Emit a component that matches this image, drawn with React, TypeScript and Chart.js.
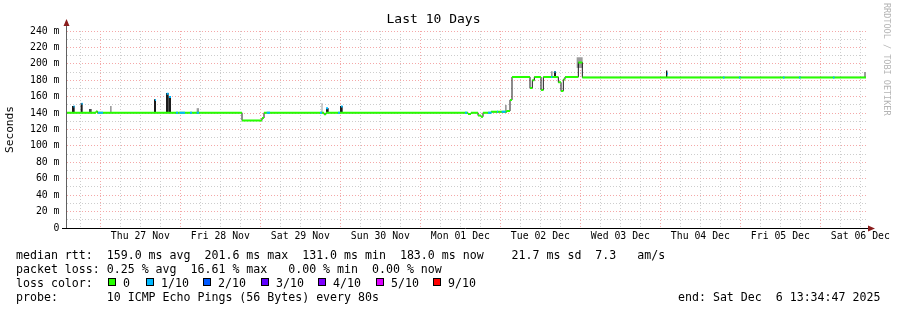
import React, { useEffect, useRef } from 'react';
import { Chart, registerables } from 'chart.js';

Chart.register(...registerables);

const FONT = '"DejaVu Sans Mono", monospace';

// ---- time axis: hours after the graph start (10 days = 240 h) ----
const X_MIN = 0;
const X_MAX = 240;
const dayLabels = ['Thu 27 Nov', 'Fri 28 Nov', 'Sat 29 Nov', 'Sun 30 Nov', 'Mon 01 Dec', 'Tue 02 Dec', 'Wed 03 Dec', 'Thu 04 Dec', 'Fri 05 Dec', 'Sat 06 Dec'];
const noonHours = [22, 46, 70, 94, 118, 142, 166, 190, 214, 238];
const midnightHours = [10, 34, 58, 82, 106, 130, 154, 178, 202, 226];
const sixHourGrid = [4, 10, 16, 22, 28, 34, 40, 46, 52, 58, 64, 70, 76, 82, 88, 94, 100, 106, 112, 118, 124, 130, 136, 142, 148, 154, 160, 166, 172, 178, 184, 190, 196, 202, 208, 214, 220, 226, 232, 238];

// ---- value axis (ms) ----
const Y_MAX = 240;
const yGridValues = [0, 10, 20, 30, 40, 50, 60, 70, 80, 90, 100, 110, 120, 130, 140, 150, 160, 170, 180, 190, 200, 210, 220, 230, 240];
const yLabelValues = [0, 20, 40, 60, 80, 100, 120, 140, 160, 180, 200, 220, 240];

// ---- median rtt (ms), step starts in hours ----
const medianStart = [0, 8.7, 9.15, 52.5, 58.5, 59.1, 77.1, 77.7, 120.3, 121.2, 123.3, 124.2, 124.8, 127.2, 131.9, 132.9, 133.5, 138.9, 139.6, 140.2, 142.2, 142.9, 147.4, 148.2, 148.9, 149.4, 153.4, 154.6];
const medianValue = [140.5, 142, 140.5, 131, 134, 140.5, 138.5, 140.5, 139, 140.5, 137, 135.5, 140.5, 141.5, 142.5, 156, 184, 170.5, 180, 184, 168, 184, 177.5, 167, 181, 184, 201.6, 183.5];
const medianEnd = 239.7;

// ---- intervals with 1/10 packet loss (median drawn in loss colour) ----
const lossStart = [1.95, 4.35, 9.3, 26.4, 29.9, 30.6, 32.7, 33.75, 36.9, 38.9, 59.9, 75.9, 77.7, 81.3, 82.2, 119.4, 126.3, 129.0, 130.4, 145.2, 146.25, 180.0, 196.8, 201.6, 214.8, 219.6, 229.8];
const lossEnd = [2.3, 4.7, 10.8, 26.7, 30.5, 31.2, 33.3, 35.4, 37.5, 39.6, 60.9, 76.5, 78.3, 81.9, 82.7, 120.0, 127.4, 129.3, 131.6, 145.6, 146.55, 180.3, 197.25, 202.05, 215.25, 220.05, 230.25];
const lossValue = [148, 151.5, 140.5, 156, 163.5, 159.5, 140.5, 140.5, 140.5, 140.5, 140.5, 140.5, 146, 140.5, 148, 140.5, 140.5, 141.5, 141.5, 184, 190, 188, 183.5, 183.5, 183.5, 183.5, 183.5];

// ---- smoke (spread of individual pings) ----
const smokeStart = [1.5, 4.1, 6.6, 12.9, 26.1, 29.7, 30.5, 38.9, 76.35, 77.7, 81.9, 131.4, 145.2, 146.1, 152.9, 179.7, 239.1];
const smokeEnd = [2.3, 4.7, 7.4, 13.4, 26.7, 30.5, 31.2, 39.6, 76.65, 78.5, 82.7, 131.9, 145.7, 146.7, 154.7, 180.1, 239.7];
const smokeLow = [140.5, 140.5, 140.5, 140.5, 140.5, 140.5, 140.5, 140.5, 140.5, 140.5, 140.5, 140.5, 184, 184, 195, 184, 184];
const smokeHigh = [148.6, 152, 145, 148.6, 157, 164.5, 160.5, 146, 152, 146, 148.6, 150, 191, 191, 208, 192, 190];
const smokeShade = ['dark', 'dark', 'mid', 'light', 'dark', 'dark', 'dark', 'light', 'light', 'dark', 'dark', 'light', 'light', 'dark', 'light', 'dark', 'light'];

// ---- legend ----
const lossLabels = ['0', '1/10', '2/10', '3/10', '4/10', '5/10', '9/10'];
const lossColors = ['#26ff00', '#00b8ff', '#0059ff', '#5e00ff', '#7e00ff', '#dd00ff', '#ff0000'];
const legendRtt = 'median rtt:  159.0 ms avg  201.6 ms max  131.0 ms min  183.0 ms now    21.7 ms sd  7.3   am/s';
const legendLoss = 'packet loss: 0.25 % avg  16.61 % max   0.00 % min  0.00 % now';
const legendProbe = 'probe:       10 ICMP Echo Pings (56 Bytes) every 80s';
const legendEnd = 'end: Sat Dec  6 13:34:47 2025';

const SHADES: Record<string, string> = { dark: '#1c1c1c', mid: '#4a4a4a', light: '#9c9c9c' };
const MAJOR_GRID = '#f4a8a8';
const MINOR_GRID = '#cdcdcd';
const TICK_FONT_SIZE = 9.8;

const axesPlugin = {
  id: 'rrdAxes',
  afterDraw(chart: any) {
    const { ctx, chartArea: a } = chart;
    ctx.save();
    ctx.lineWidth = 1;
    ctx.strokeStyle = '#606060';
    ctx.beginPath();
    ctx.moveTo(a.left - 0.5, a.bottom);
    ctx.lineTo(a.left - 0.5, a.top - 8);
    ctx.stroke();
    ctx.strokeStyle = '#000000';
    ctx.beginPath();
    ctx.moveTo(a.left - 5, a.bottom + 0.5);
    ctx.lineTo(a.right + 2, a.bottom + 0.5);
    ctx.stroke();
    ctx.fillStyle = '#8a1d1d';
    ctx.beginPath();
    ctx.moveTo(a.left - 0.5, a.top - 12);
    ctx.lineTo(a.left - 3.5, a.top - 5);
    ctx.lineTo(a.left + 2.5, a.top - 5);
    ctx.closePath();
    ctx.fill();
    ctx.beginPath();
    ctx.moveTo(a.right + 8, a.bottom + 0.5);
    ctx.lineTo(a.right + 1, a.bottom - 2.5);
    ctx.lineTo(a.right + 1, a.bottom + 3.5);
    ctx.closePath();
    ctx.fill();
    ctx.restore();
  },
};

export default function App() {
  const canvasRef = useRef<HTMLCanvasElement | null>(null);

  useEffect(() => {
    const canvas = canvasRef.current;
    if (!canvas) return;

    const medianSegments: any[] = [];
    medianStart.forEach((s, i) => {
      const e = i < medianStart.length - 1 ? medianStart[i + 1] : medianEnd;
      medianSegments.push({ x: s, y: medianValue[i] }, { x: e, y: medianValue[i] }, { x: e, y: null });
    });
    const medianSteps = medianStart.map((s, i) => ({ x: s, y: medianValue[i] }));
    medianSteps.push({ x: medianEnd, y: medianValue[medianValue.length - 1] });

    const lossSegments: any[] = [];
    lossStart.forEach((s, i) => {
      lossSegments.push({ x: s, y: lossValue[i] }, { x: lossEnd[i], y: lossValue[i] }, { x: lossEnd[i], y: null });
    });

    const smokePts: any[] = [];
    smokeStart.forEach((s, i) => {
      const mid = (s + smokeEnd[i]) / 2;
      smokePts.push({ x: mid, y: smokeLow[i] }, { x: mid, y: smokeHigh[i] }, { x: mid, y: null });
    });

    let chart: any = null;
    chart = new Chart(canvas, {
      type: 'line',
      data: {
        datasets: [
          {
            label: 'loss 1/10',
            data: lossSegments,
            borderColor: lossColors[1],
            borderWidth: 2,
            pointRadius: 0,
            spanGaps: false,
            order: 0,
          },
          {
            label: 'median rtt',
            data: medianSegments,
            borderColor: lossColors[0],
            borderWidth: 2,
            pointRadius: 0,
            spanGaps: false,
            order: 1,
          },
          {
            label: 'median steps',
            data: medianSteps,
            borderColor: '#1a1a1a',
            borderWidth: 1,
            stepped: true,
            pointRadius: 0,
            order: 2,
          },
          {
            label: 'smoke',
            data: smokePts,
            borderColor: '#1c1c1c',
            borderWidth: 2,
            pointRadius: 0,
            spanGaps: false,
            order: 3,
            segment: {
              borderWidth: (ctx: any) => {
                const k = Math.floor(ctx.p0DataIndex / 3);
                const c = ctx.chart || chart;
                const sc = c && c.scales && c.scales.x;
                if (!sc) return 2;
                return Math.max(1, sc.getPixelForValue(smokeEnd[k]) - sc.getPixelForValue(smokeStart[k]));
              },
              borderColor: (ctx: any) => SHADES[smokeShade[Math.floor(ctx.p0DataIndex / 3)]],
            },
          } as any,
        ],
      },
      options: {
        responsive: false,
        animation: false,
        devicePixelRatio: 1,
        events: [],
        layout: { padding: { left: 0, right: 30, top: 0, bottom: 0 } },
        plugins: {
          legend: { display: false },
          tooltip: { enabled: false },
          title: {
            display: true,
            text: 'Last 10 Days',
            color: '#000',
            font: { family: FONT, size: 13, weight: 'normal' as any },
            padding: { top: 11.7, bottom: 3.7 },
          },
        },
        scales: {
          x: {
            type: 'linear',
            min: X_MIN,
            max: X_MAX,
            offset: false,
            afterBuildTicks: (scale: any) => {
              scale.ticks = sixHourGrid.map((v) => ({ value: v }));
            },
            afterFit: (scale: any) => {
              scale.height = 82;
              scale.paddingLeft = 0;
              scale.paddingRight = 0;
            },
            grid: {
              drawTicks: false,
              color: (ctx: any) => (midnightHours.includes(ctx.tick?.value) ? MAJOR_GRID : MINOR_GRID),
              lineWidth: 1,
            },
            border: { display: false, dash: [1, 2] },
            ticks: {
              autoSkip: false,
              maxRotation: 0,
              minRotation: 0,
              padding: 2.7,
              color: '#000',
              font: { family: FONT, size: TICK_FONT_SIZE },
              callback: (v: any) => {
                const i = noonHours.indexOf(Number(v));
                return i >= 0 ? dayLabels[i] : '';
              },
            },
          },
          y: {
            type: 'linear',
            min: 0,
            max: Y_MAX,
            afterBuildTicks: (scale: any) => {
              scale.ticks = yGridValues.map((v) => ({ value: v }));
            },
            afterFit: (scale: any) => {
              scale.width = 67;
              scale.paddingTop = 0;
              scale.paddingBottom = 0;
            },
            grid: {
              drawTicks: false,
              color: (ctx: any) => (yLabelValues.includes(ctx.tick?.value) ? MAJOR_GRID : MINOR_GRID),
              lineWidth: 1,
            },
            border: { display: false, dash: [1, 2] },
            title: {
              display: true,
              text: 'Seconds',
              color: '#000',
              font: { family: FONT, size: 11.2 },
              padding: { top: 3, bottom: 0 },
            },
            ticks: {
              autoSkip: false,
              padding: 7.5,
              color: '#000',
              font: { family: FONT, size: TICK_FONT_SIZE },
              callback: (v: any) => {
                const n = Number(v);
                if (!yLabelValues.includes(n)) return '';
                return n === 0 ? '0' : `${n} m`;
              },
            },
          },
        },
      },
      plugins: [axesPlugin],
    } as any);

    return () => {
      if (chart) chart.destroy();
    };
  }, []);

  const textStyle: React.CSSProperties = {
    position: 'absolute',
    fontFamily: FONT,
    fontSize: '11.6px',
    lineHeight: '14px',
    whiteSpace: 'pre',
    color: '#000',
  };

  const boxX = [108, 146, 203, 261, 318, 376, 433];

  return (
    <div style={{ position: 'absolute', left: 0, top: 0, width: 897, height: 310, background: '#fff', overflow: 'hidden' }}>
      <canvas ref={canvasRef} width={897} height={310} style={{ position: 'absolute', left: 0, top: 0, width: 897, height: 310 }} />
      <div
        style={{
          position: 'absolute',
          left: 882,
          top: 3,
          writingMode: 'vertical-rl',
          fontFamily: FONT,
          fontSize: '8.5px',
          lineHeight: '10px',
          color: '#b4b4b4',
          whiteSpace: 'pre',
        }}
      >
        RRDTOOL / TOBI OETIKER
      </div>
      <div style={{ ...textStyle, left: 16, top: 248 }}>{legendRtt}</div>
      <div style={{ ...textStyle, left: 16, top: 262 }}>{legendLoss}</div>
      <div style={{ ...textStyle, left: 16, top: 276 }}>loss color:</div>
      {lossLabels.map((lab, i) => (
        <React.Fragment key={lab}>
          <div
            style={{
              position: 'absolute',
              left: boxX[i],
              top: 278,
              width: 6,
              height: 6,
              border: '1px solid #000',
              background: lossColors[i],
            }}
          />
          <div style={{ ...textStyle, left: boxX[i] + 15, top: 276 }}>{lab}</div>
        </React.Fragment>
      ))}
      <div style={{ ...textStyle, left: 16, top: 290 }}>{legendProbe}</div>
      <div style={{ ...textStyle, left: 678, top: 290 }}>{legendEnd}</div>
    </div>
  );
}
